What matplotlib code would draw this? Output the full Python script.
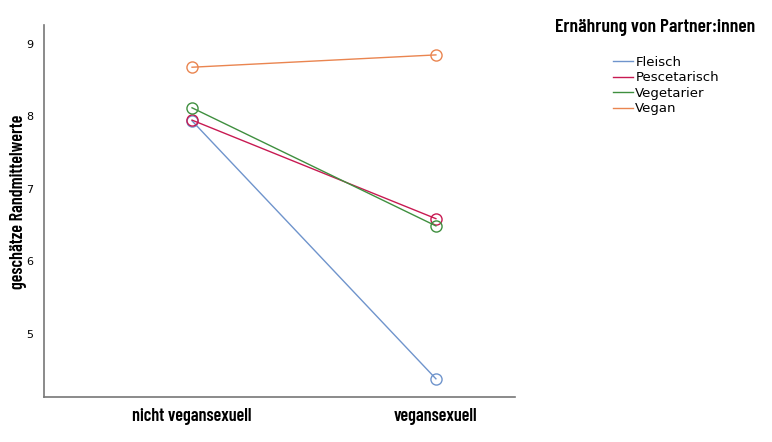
import matplotlib.pyplot as plt

groups = ["nicht vegansexuell", "vegansexuell"]
series = ["Fleisch", "Pescetarisch", "Vegetarier", "Vegan"]
fleisch = [7.94, 4.38]
pescetarisch = [7.95, 6.59]
vegetarier = [8.12, 6.49]
vegan = [8.68, 8.85]
colors = ["#6f94cc", "#c81a52", "#3f8f3f", "#ea8550"]
yticks = [5, 6, 7, 8, 9]

head = ["Barlow Condensed", "DejaVu Sans"]

fig = plt.figure(figsize=(7.72, 4.42), dpi=100)
ax = fig.add_axes([0.057, 0.102, 0.61, 0.841])

x = list(range(len(groups)))
for vals, name, c in zip([fleisch, pescetarisch, vegetarier, vegan], series, colors):
    ax.plot(x, vals, color=c, lw=1.0, label=name)
    ax.plot(x, vals, ls="none", marker="o", ms=8, mfc="none", mec=c, mew=1.0)

ax.set_xlim(-0.607, 1.324)
ax.set_ylim(4.13, 9.26)
ax.set_xticks(x)
ax.set_xticklabels(groups, fontsize=13, fontweight="semibold", family=head)
ax.set_yticks(yticks)
ax.set_yticklabels([str(t) for t in yticks], fontsize=8)
ax.tick_params(axis="y", length=0, pad=8)
ax.tick_params(axis="x", length=0, pad=8)
for s in ["top", "right"]:
    ax.spines[s].set_visible(False)
for s in ["left", "bottom"]:
    ax.spines[s].set_color("#777777")
    ax.spines[s].set_linewidth(1.2)
ax.set_ylabel("geschätze Randmittelwerte", fontsize=13, fontweight="semibold",
              family=head)
ax.yaxis.set_label_coords(-0.036, 0.524)

handles, labels = ax.get_legend_handles_labels()
fig.legend(handles, labels, loc="upper left", bbox_to_anchor=(0.787, 0.885),
           frameon=False, fontsize=9.5, handlelength=1.55, handletextpad=0.15,
           labelspacing=0.18, borderaxespad=0)
fig.text(0.848, 0.937, "Ernährung von Partner:innen", fontsize=14, fontweight="semibold",
         family=head, ha="center", va="center")

fig.savefig("out.png", dpi=100)
